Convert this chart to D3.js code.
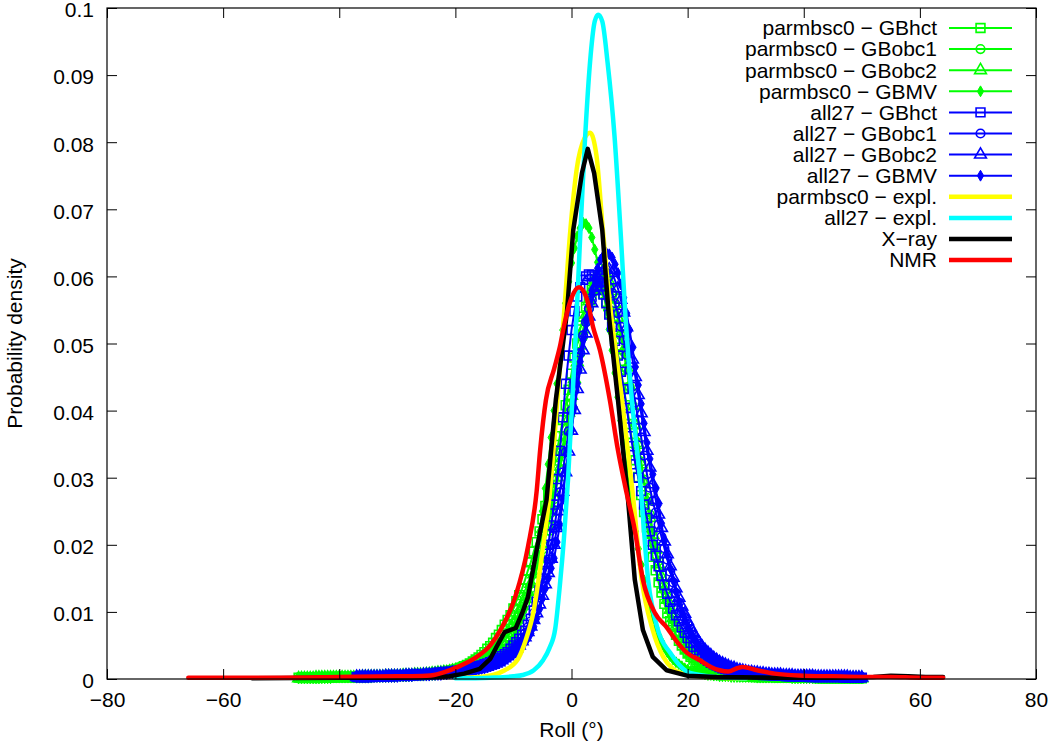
<!DOCTYPE html>
<html><head><meta charset="utf-8">
<script src="https://cdn.jsdelivr.net/npm/d3@7"></script>
<style>
html,body{margin:0;padding:0;background:#fff;}
svg{display:block;font-family:"Liberation Sans",Arial,Helvetica,sans-serif;}
</style></head><body>
<svg id="chart" width="1050" height="743"></svg>
<script>
// ---------- DATA ----------
const xTicks = [-80,-60,-40,-20,0,20,40,60,80];
const yTicks = [0,0.01,0.02,0.03,0.04,0.05,0.06,0.07,0.08,0.09,0.1];
const xLabel = "Roll (°)";
const yLabel = "Probability density";

// histogram bin centres (degrees, 0.5° bins)
const greenBins = d3.range(-47, 50.01, 0.5);
const blueBins  = d3.range(-37, 50.01, 0.5);

const parmbsc0_GBhct = [
 .0002,.0002,.0002,.0002,.0002,.0002,.0002,.0002,.0002,.0002,
 .0002,.0002,.0002,.0003,.0003,.0003,.0003,.0003,.0003,.0003,
 .0003,.0003,.0003,.0003,.0003,.0004,.0004,.0004,.0004,.0004,
 .0004,.0004,.0004,.0005,.0005,.0005,.0005,.0005,.0005,.0006,
 .0006,.0006,.0006,.0007,.0007,.0008,.0008,.0008,.0009,.0010,
 .0010,.0011,.0012,.0013,.0014,.0015,.0017,.0019,.0021,.0023,
 .0026,.0029,.0032,.0036,.0040,.0045,.0049,.0054,.0061,.0066,
 .0073,.0081,.0088,.0095,.0105,.0116,.0125,.0135,.0148,.0162,
 .0174,.0190,.0204,.0220,.0238,.0258,.0276,.0296,.0318,.0341,
 .0362,.0386,.0408,.0431,.0455,.0479,.0500,.0521,.0540,.0555,
 .0570,.0580,.0585,.0586,.0582,.0574,.0562,.0545,.0528,.0507,
 .0484,.0461,.0434,.0408,.0380,.0352,.0326,.0301,.0274,.0249,
 .0226,.0205,.0182,.0162,.0144,.0129,.0112,.0098,.0086,.0077,
 .0066,.0057,.0050,.0044,.0038,.0033,.0029,.0025,.0022,.0019,
 .0017,.0015,.0013,.0011,.0010,.0009,.0008,.0007,.0007,.0006,
 .0006,.0005,.0005,.0004,.0004,.0004,.0004,.0003,.0003,.0003,
 .0003,.0003,.0003,.0003,.0003,.0002,.0002,.0002,.0002,.0002,
 .0002,.0002,.0002,.0002,.0002,.0002,.0002,.0002,.0002,.0001,
 .0001,.0001,.0001,.0001,.0001,.0001,.0001,.0001,.0001,.0001,
 .0001,.0001,.0001,.0001,.0001];
const parmbsc0_GBobc1 = [
 .0001,.0001,.0001,.0001,.0001,.0001,.0001,.0001,.0002,.0002,
 .0002,.0002,.0002,.0002,.0002,.0002,.0002,.0002,.0002,.0002,
 .0002,.0002,.0002,.0002,.0003,.0003,.0003,.0003,.0003,.0003,
 .0003,.0003,.0004,.0004,.0004,.0004,.0004,.0004,.0005,.0005,
 .0005,.0005,.0006,.0006,.0006,.0006,.0007,.0007,.0008,.0008,
 .0009,.0009,.0010,.0011,.0012,.0013,.0014,.0015,.0017,.0018,
 .0020,.0022,.0024,.0026,.0029,.0032,.0035,.0039,.0043,.0047,
 .0052,.0057,.0063,.0070,.0077,.0085,.0093,.0102,.0112,.0123,
 .0135,.0148,.0162,.0177,.0193,.0210,.0228,.0248,.0268,.0290,
 .0312,.0336,.0360,.0385,.0410,.0435,.0460,.0485,.0510,.0532,
 .0552,.0570,.0585,.0594,.0600,.0599,.0595,.0585,.0572,.0555,
 .0535,.0512,.0488,.0462,.0436,.0408,.0380,.0352,.0324,.0297,
 .0270,.0245,.0220,.0198,.0176,.0157,.0138,.0122,.0106,.0093,
 .0081,.0071,.0061,.0053,.0046,.0040,.0035,.0031,.0027,.0024,
 .0021,.0018,.0016,.0014,.0013,.0011,.0010,.0009,.0008,.0008,
 .0007,.0006,.0006,.0005,.0005,.0005,.0004,.0004,.0004,.0004,
 .0003,.0003,.0003,.0003,.0003,.0003,.0003,.0003,.0002,.0002,
 .0002,.0002,.0002,.0002,.0002,.0002,.0002,.0002,.0002,.0002,
 .0002,.0002,.0001,.0001,.0001,.0001,.0001,.0001,.0001,.0001,
 .0001,.0001,.0001,.0001,.0001];
const parmbsc0_GBobc2 = [
 .0001,.0001,.0001,.0001,.0001,.0001,.0002,.0002,.0002,.0002,
 .0002,.0002,.0002,.0002,.0002,.0002,.0002,.0002,.0002,.0002,
 .0002,.0002,.0003,.0003,.0003,.0003,.0003,.0003,.0003,.0003,
 .0004,.0004,.0004,.0004,.0004,.0004,.0005,.0005,.0005,.0005,
 .0006,.0006,.0006,.0006,.0007,.0007,.0008,.0008,.0009,.0009,
 .0010,.0010,.0011,.0012,.0013,.0014,.0015,.0016,.0018,.0020,
 .0022,.0024,.0026,.0028,.0031,.0034,.0038,.0042,.0046,.0051,
 .0056,.0062,.0068,.0075,.0082,.0090,.0099,.0109,.0119,.0130,
 .0142,.0156,.0170,.0186,.0202,.0220,.0238,.0258,.0279,.0301,
 .0324,.0348,.0372,.0397,.0422,.0447,.0472,.0497,.0521,.0543,
 .0563,.0580,.0595,.0604,.0610,.0608,.0603,.0592,.0578,.0559,
 .0538,.0515,.0490,.0464,.0436,.0407,.0378,.0349,.0320,.0292,
 .0265,.0240,.0215,.0193,.0171,.0152,.0134,.0118,.0103,.0091,
 .0079,.0069,.0060,.0052,.0045,.0039,.0034,.0030,.0026,.0023,
 .0020,.0018,.0016,.0014,.0012,.0011,.0010,.0009,.0008,.0007,
 .0007,.0006,.0006,.0005,.0005,.0004,.0004,.0004,.0004,.0003,
 .0003,.0003,.0003,.0003,.0003,.0002,.0002,.0002,.0002,.0002,
 .0002,.0002,.0002,.0002,.0002,.0002,.0002,.0002,.0002,.0001,
 .0001,.0001,.0001,.0001,.0001,.0001,.0001,.0001,.0001,.0001,
 .0001,.0001,.0001,.0001,.0001];
const parmbsc0_GBMV = [
 .0001,.0001,.0001,.0001,.0001,.0001,.0001,.0001,.0001,.0001,
 .0001,.0001,.0002,.0002,.0002,.0002,.0002,.0002,.0002,.0002,
 .0002,.0002,.0002,.0002,.0002,.0002,.0003,.0003,.0003,.0003,
 .0003,.0003,.0003,.0003,.0004,.0004,.0004,.0004,.0004,.0004,
 .0005,.0005,.0005,.0005,.0006,.0006,.0006,.0006,.0007,.0007,
 .0008,.0008,.0009,.0009,.0010,.0011,.0012,.0013,.0014,.0015,
 .0016,.0017,.0019,.0021,.0023,.0025,.0028,.0031,.0034,.0038,
 .0042,.0045,.0048,.0054,.0060,.0068,.0078,.0090,.0105,.0122,
 .0140,.0164,.0190,.0219,.0250,.0284,.0320,.0360,.0400,.0440,
 .0480,.0520,.0560,.0592,.0620,.0642,.0660,.0672,.0680,.0678,
 .0672,.0658,.0640,.0621,.0600,.0576,.0550,.0521,.0490,.0456,
 .0420,.0385,.0350,.0315,.0280,.0249,.0220,.0194,.0170,.0147,
 .0125,.0107,.0090,.0077,.0065,.0056,.0047,.0040,.0034,.0029,
 .0025,.0022,.0019,.0016,.0014,.0012,.0011,.0010,.0009,.0008,
 .0007,.0006,.0006,.0005,.0005,.0004,.0004,.0004,.0004,.0003,
 .0003,.0003,.0003,.0003,.0003,.0003,.0003,.0003,.0002,.0002,
 .0002,.0002,.0002,.0002,.0002,.0002,.0002,.0002,.0002,.0002,
 .0001,.0001,.0001,.0001,.0001,.0001,.0001,.0001,.0001,.0001,
 .0001,.0001,.0001,.0001,.0001,.0001,.0001,.0001,.0001,.0001,
 .0001,.0001,.0001,.0001,.0001];

const all27_GBhct = [
 .0003,.0003,.0003,.0003,.0003,.0003,.0004,.0004,.0004,.0004,
 .0004,.0004,.0005,.0005,.0005,.0005,.0005,.0005,.0006,.0006,
 .0006,.0006,.0007,.0007,.0007,.0007,.0008,.0008,.0009,.0009,
 .0010,.0010,.0011,.0011,.0012,.0012,.0013,.0014,.0015,.0016,
 .0017,.0018,.0019,.0020,.0022,.0023,.0025,.0027,.0029,.0031,
 .0034,.0037,.0040,.0045,.0050,.0055,.0060,.0066,.0072,.0081,
 .0090,.0102,.0115,.0132,.0150,.0174,.0200,.0229,.0260,.0298,
 .0340,.0390,.0440,.0482,.0520,.0548,.0570,.0584,.0595,.0600,
 .0603,.0602,.0600,.0593,.0585,.0573,.0560,.0543,.0525,.0504,
 .0482,.0458,.0432,.0404,.0375,.0347,.0320,.0300,.0280,.0260,
 .0240,.0220,.0200,.0184,.0168,.0154,.0140,.0127,.0115,.0105,
 .0095,.0086,.0077,.0069,.0061,.0054,.0048,.0043,.0038,.0034,
 .0030,.0027,.0024,.0022,.0020,.0018,.0016,.0015,.0014,.0013,
 .0012,.0011,.0010,.0010,.0009,.0009,.0008,.0008,.0007,.0007,
 .0006,.0006,.0006,.0006,.0005,.0005,.0005,.0005,.0004,.0004,
 .0004,.0004,.0004,.0004,.0004,.0004,.0003,.0003,.0003,.0003,
 .0003,.0003,.0003,.0003,.0003,.0003,.0003,.0003,.0002,.0002,
 .0002,.0002,.0002,.0002,.0002];
const all27_GBobc1 = [
 .0003,.0003,.0003,.0003,.0003,.0003,.0003,.0003,.0004,.0004,
 .0004,.0004,.0004,.0004,.0004,.0004,.0005,.0005,.0005,.0005,
 .0005,.0005,.0006,.0006,.0006,.0006,.0007,.0007,.0007,.0007,
 .0008,.0008,.0009,.0009,.0010,.0010,.0011,.0011,.0012,.0013,
 .0014,.0015,.0016,.0017,.0018,.0019,.0021,.0023,.0025,.0027,
 .0030,.0033,.0036,.0040,.0044,.0049,.0054,.0061,.0068,.0077,
 .0086,.0098,.0110,.0125,.0140,.0159,.0178,.0201,.0224,.0251,
 .0278,.0308,.0338,.0369,.0400,.0430,.0460,.0486,.0512,.0532,
 .0552,.0565,.0578,.0584,.0590,.0591,.0590,.0583,.0575,.0560,
 .0545,.0525,.0505,.0483,.0460,.0436,.0412,.0386,.0360,.0333,
 .0305,.0285,.0265,.0248,.0230,.0212,.0195,.0178,.0160,.0144,
 .0128,.0114,.0100,.0091,.0082,.0074,.0066,.0059,.0052,.0047,
 .0042,.0038,.0034,.0031,.0028,.0025,.0023,.0021,.0019,.0017,
 .0016,.0014,.0013,.0012,.0011,.0010,.0010,.0009,.0009,.0008,
 .0008,.0007,.0007,.0006,.0006,.0006,.0006,.0005,.0005,.0005,
 .0005,.0004,.0004,.0004,.0004,.0004,.0004,.0004,.0004,.0003,
 .0003,.0003,.0003,.0003,.0003,.0003,.0003,.0003,.0003,.0003,
 .0003,.0002,.0002,.0002,.0002];
const all27_GBobc2 = [
 .0003,.0003,.0003,.0003,.0003,.0003,.0003,.0003,.0003,.0003,
 .0004,.0004,.0004,.0004,.0004,.0004,.0004,.0005,.0005,.0005,
 .0005,.0005,.0005,.0006,.0006,.0006,.0006,.0007,.0007,.0008,
 .0008,.0008,.0008,.0009,.0009,.0010,.0010,.0011,.0011,.0012,
 .0013,.0014,.0015,.0016,.0017,.0018,.0020,.0021,.0023,.0025,
 .0028,.0031,.0034,.0037,.0041,.0045,.0050,.0056,.0062,.0070,
 .0078,.0088,.0098,.0111,.0124,.0141,.0158,.0179,.0200,.0225,
 .0250,.0279,.0308,.0339,.0370,.0401,.0432,.0461,.0490,.0515,
 .0540,.0560,.0578,.0591,.0602,.0608,.0612,.0610,.0605,.0594,
 .0582,.0565,.0546,.0524,.0500,.0476,.0450,.0423,.0396,.0368,
 .0340,.0315,.0290,.0267,.0245,.0225,.0205,.0186,.0168,.0151,
 .0135,.0121,.0108,.0097,.0086,.0077,.0068,.0061,.0054,.0048,
 .0043,.0039,.0035,.0031,.0028,.0025,.0023,.0021,.0019,.0017,
 .0016,.0014,.0013,.0012,.0011,.0010,.0010,.0009,.0009,.0008,
 .0008,.0007,.0007,.0006,.0006,.0006,.0006,.0005,.0005,.0005,
 .0005,.0004,.0004,.0004,.0004,.0004,.0004,.0004,.0003,.0003,
 .0003,.0003,.0003,.0003,.0003,.0003,.0003,.0003,.0003,.0003,
 .0002,.0002,.0002,.0002,.0002];
const all27_GBMV = [
 .0002,.0002,.0002,.0002,.0002,.0003,.0003,.0003,.0003,.0003,
 .0003,.0003,.0003,.0003,.0003,.0004,.0004,.0004,.0004,.0004,
 .0005,.0005,.0005,.0005,.0005,.0005,.0006,.0006,.0006,.0006,
 .0007,.0007,.0008,.0008,.0009,.0009,.0010,.0010,.0011,.0011,
 .0012,.0013,.0014,.0015,.0016,.0017,.0019,.0020,.0022,.0024,
 .0026,.0028,.0031,.0034,.0037,.0041,.0045,.0050,.0055,.0061,
 .0068,.0078,.0090,.0104,.0120,.0135,.0150,.0165,.0180,.0204,
 .0230,.0268,.0310,.0340,.0370,.0405,.0440,.0473,.0505,.0532,
 .0558,.0579,.0598,.0612,.0625,.0631,.0635,.0633,.0628,.0618,
 .0605,.0588,.0568,.0545,.0520,.0493,.0465,.0438,.0410,.0381,
 .0352,.0328,.0305,.0283,.0260,.0232,.0205,.0185,.0165,.0147,
 .0130,.0115,.0100,.0088,.0076,.0068,.0060,.0054,.0048,.0044,
 .0040,.0038,.0036,.0033,.0030,.0027,.0024,.0021,.0019,.0017,
 .0015,.0013,.0012,.0011,.0010,.0010,.0009,.0009,.0008,.0008,
 .0007,.0007,.0006,.0006,.0006,.0006,.0005,.0005,.0005,.0005,
 .0005,.0004,.0004,.0004,.0004,.0004,.0004,.0004,.0003,.0003,
 .0003,.0003,.0003,.0003,.0003,.0003,.0003,.0003,.0003,.0003,
 .0002,.0002,.0002,.0002,.0002];

// explicit-solvent / experimental curves: [roll, density]
const parmbsc0_expl = [[-19,0.0002],[-16,0.0003],[-13.5,0.0006],[-11.5,0.0013],[-9.2,0.0030],[-7.8,0.0060],[-6.6,0.0098],[-4.9,0.0197],[-3.7,0.028],[-2.4,0.042],[-1.1,0.0565],[-0.2,0.0669],[0.9,0.076],[2.2,0.0805],[3.2,0.0814],[4.3,0.078],[5.4,0.0669],[6.6,0.056],[7.6,0.049],[8.7,0.0416],[10.5,0.028],[12.1,0.0148],[14,0.0073],[15.8,0.0033],[17.5,0.0015],[18.7,0.0009],[22,0.0004],[26,0.0002],[30,0.0001]];
const all27_expl = [[-20,0.0001],[-14,0.0002],[-10,0.0004],[-8.4,0.0006],[-6.5,0.0013],[-4.9,0.0028],[-3.8,0.0046],[-2.8,0.0075],[-2.0,0.0140],[-1.3,0.021],[-0.6,0.0297],[0.6,0.049],[1.5,0.066],[2.3,0.080],[3.3,0.093],[4.0,0.098],[4.6,0.099],[5.3,0.098],[6.2,0.092],[7.4,0.081],[8.5,0.066],[9.3,0.054],[10.4,0.0416],[11.8,0.0297],[13.2,0.0148],[14.9,0.0073],[17,0.0039],[20.4,0.0009],[25,0.0003],[30,0.0001]];
const xray = [[-55,0.0001],[-40,0.0002],[-30,0.0002],[-24,0.0003],[-21,0.0004],[-18.5,0.0008],[-15.8,0.0015],[-14,0.0030],[-12.9,0.0048],[-11.5,0.0070],[-9.6,0.0076],[-8.5,0.0098],[-7.5,0.0122],[-5.9,0.0197],[-4.3,0.0267],[-2.7,0.0416],[-0.8,0.0545],[0.3,0.0669],[1.8,0.0754],[2.8,0.0790],[3.9,0.0754],[5.3,0.0669],[6.4,0.0545],[8,0.0416],[9.7,0.0271],[10.9,0.0148],[12.3,0.0073],[14,0.0033],[16.4,0.0013],[19.9,0.0005],[25,0.0003],[35,0.0002],[45,0.0002],[52,0.0003],[55,0.0005],[58,0.0004],[61,0.0003],[64,0.0003]];
const nmr = [[-66,0.0002],[-60,0.0002],[-50,0.0002],[-40,0.0003],[-30,0.0004],[-25,0.0005],[-23.7,0.0006],[-21,0.0013],[-17.9,0.0025],[-16.3,0.0033],[-14,0.0050],[-12.3,0.0072],[-9.7,0.0122],[-7.5,0.0197],[-6.0,0.0280],[-5.4,0.0341],[-4.4,0.0416],[-3,0.0462],[-2,0.0495],[-1.2,0.0530],[0,0.0568],[1.3,0.0584],[2.7,0.0565],[3.7,0.0525],[4.9,0.0490],[6.6,0.0416],[8,0.0341],[9.3,0.0285],[10.9,0.0222],[12.3,0.0148],[14.4,0.0098],[16.4,0.0077],[18.2,0.0055],[19.9,0.0039],[22.1,0.0028],[24,0.0018],[25.5,0.0013],[27,0.0011],[28.5,0.0016],[29.5,0.0018],[32,0.0013],[35,0.0008],[40,0.0005],[45,0.0004],[50,0.0003],[55,0.0003],[60,0.0002],[64,0.0002]];

const markerSeries = [
  {name:"parmbsc0 − GBhct",  bins:greenBins, vals:parmbsc0_GBhct,  color:"#00ff00", marker:"square"},
  {name:"parmbsc0 − GBobc1", bins:greenBins, vals:parmbsc0_GBobc1, color:"#00ff00", marker:"circle"},
  {name:"parmbsc0 − GBobc2", bins:greenBins, vals:parmbsc0_GBobc2, color:"#00ff00", marker:"triangle"},
  {name:"parmbsc0 − GBMV",   bins:greenBins, vals:parmbsc0_GBMV,   color:"#00ff00", marker:"diamond"},
  {name:"all27 − GBhct",     bins:blueBins,  vals:all27_GBhct,     color:"#0000ff", marker:"square"},
  {name:"all27 − GBobc1",    bins:blueBins,  vals:all27_GBobc1,    color:"#0000ff", marker:"circle"},
  {name:"all27 − GBobc2",    bins:blueBins,  vals:all27_GBobc2,    color:"#0000ff", marker:"triangle"},
  {name:"all27 − GBMV",      bins:blueBins,  vals:all27_GBMV,      color:"#0000ff", marker:"diamond"}
];
const lineSeries = [
  {name:"parmbsc0 − expl.", pts:parmbsc0_expl, color:"#ffff00", smooth:true},
  {name:"all27 − expl.",    pts:all27_expl,    color:"#00ffff", smooth:true},
  {name:"X−ray",            pts:xray,          color:"#000000", smooth:false},
  {name:"NMR",              pts:nmr,           color:"#ff0000", smooth:true}
];

// ---------- CHART ----------
const PL=107, PR=1036, PT=8, PB=679;
const FONT=21;
const svg = d3.select("#chart");
const x = d3.scaleLinear().domain([-80,80]).range([PL,PR]);
const y = d3.scaleLinear().domain([0,0.1]).range([PB,PT]);

svg.append("rect").attr("width",1050).attr("height",743).attr("fill","#fff");

function markerPath(type){
  const sizes = {square:78, circle:58, triangle:60, diamond:34};
  const sym = {square:d3.symbolSquare, circle:d3.symbolCircle, triangle:d3.symbolTriangle, diamond:d3.symbolDiamond}[type];
  return d3.symbol().type(sym).size(sizes[type])();
}
function drawMarker(g, type, color, cx, cy){
  const p = g.append("path").attr("d", markerPath(type)).attr("transform",`translate(${cx},${cy})`);
  if(type==="diamond") p.attr("fill",color).attr("stroke",color).attr("stroke-width",1);
  else p.attr("fill","none").attr("stroke",color).attr("stroke-width",1.6);
}

const plot = svg.append("g");
markerSeries.forEach(s=>{
  const data = s.bins.map((b,i)=>[b,s.vals[i]]);
  const line = d3.line().x(d=>x(d[0])).y(d=>y(d[1]));
  const g = plot.append("g");
  g.append("path").datum(data).attr("d",line).attr("fill","none").attr("stroke",s.color).attr("stroke-width",2).attr("stroke-linejoin","round");
  data.forEach(d=>drawMarker(g, s.marker, s.color, x(d[0]), y(d[1])));
});
lineSeries.forEach(s=>{
  const line = d3.line().x(d=>x(d[0])).y(d=>y(d[1])).curve(s.smooth?d3.curveMonotoneX:d3.curveLinear);
  plot.append("path").datum(s.pts).attr("d",line).attr("fill","none").attr("stroke",s.color).attr("stroke-width",4.5).attr("stroke-linejoin","round").attr("stroke-linecap","round");
});

// axes (inward ticks, mirrored)
const fmtY = d => d===0 ? "0" : d3.format(".2~f")(d);
const axB = svg.append("g").attr("transform",`translate(0,${PB})`)
  .call(d3.axisBottom(x).tickValues(xTicks).tickSizeInner(-10).tickSizeOuter(0).tickPadding(13).tickFormat(d3.format("d")));
const axT = svg.append("g").attr("transform",`translate(0,${PT})`)
  .call(d3.axisTop(x).tickValues(xTicks).tickSizeInner(-10).tickSizeOuter(0).tickFormat(""));
const axL = svg.append("g").attr("transform",`translate(${PL},0)`)
  .call(d3.axisLeft(y).tickValues(yTicks).tickSizeInner(-10).tickSizeOuter(0).tickPadding(13).tickFormat(fmtY));
const axR = svg.append("g").attr("transform",`translate(${PR},0)`)
  .call(d3.axisRight(y).tickValues(yTicks).tickSizeInner(-10).tickSizeOuter(0).tickFormat(""));
[axB,axT,axL,axR].forEach(a=>{
  a.select(".domain").remove();
  a.selectAll(".tick line").attr("stroke","#000").attr("stroke-width",1);
  a.selectAll("text").attr("font-size",FONT).attr("font-family","Liberation Sans, Arial, sans-serif").attr("fill","#000");
});
axL.selectAll("text").attr("dy","0.42em");
svg.append("rect").attr("x",PL).attr("y",PT).attr("width",PR-PL).attr("height",PB-PT)
  .attr("fill","none").attr("stroke","#000").attr("stroke-width",1.2);

// axis titles
svg.append("text").attr("x",(PL+PR)/2).attr("y",737).attr("text-anchor","middle")
  .attr("font-size",FONT).text(xLabel);
svg.append("text").attr("transform",`translate(22,${(PT+PB)/2}) rotate(-90)`).attr("text-anchor","middle")
  .attr("font-size",FONT).text(yLabel);

// legend
const leg = svg.append("g");
const allLeg = markerSeries.map(s=>({name:s.name,color:s.color,marker:s.marker,w:2}))
  .concat(lineSeries.map(s=>({name:s.name,color:s.color,marker:null,w:4.5})));
allLeg.forEach((s,i)=>{
  const cy = 28 + i*21.1;
  leg.append("text").attr("x",937).attr("y",cy).attr("dy","0.35em").attr("text-anchor","end")
    .attr("font-size",FONT).text(s.name);
  leg.append("line").attr("x1",949).attr("x2",1012).attr("y1",cy).attr("y2",cy)
    .attr("stroke",s.color).attr("stroke-width",s.w);
  if(s.marker) drawMarker(leg, s.marker, s.color, 980.5, cy);
});
</script>
</body></html>
